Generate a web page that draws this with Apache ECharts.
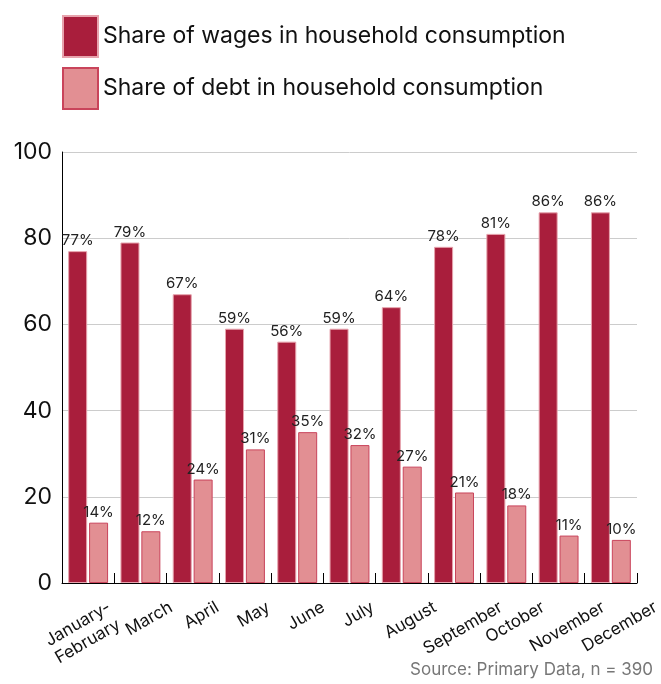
<!DOCTYPE html>
<html>
<head>
<meta charset="utf-8">
<script src="https://cdn.jsdelivr.net/npm/echarts@6/dist/echarts.min.js"></script>
<style>
html,body{margin:0;padding:0;background:#fff;}
#chart{width:661px;height:684px;}
</style>
</head>
<body>
<div id="chart"></div>
<script>
var categories = ['January-\nFebruary','March','April','May','June','July','August','September','October','November','December'];
var wages = [77,79,67,59,56,59,64,78,81,86,86];
var debt = [14,12,24,31,35,32,27,21,18,11,10];
var seriesNames = ['Share of wages in household consumption','Share of debt in household consumption'];
var yTicks = {min:0, max:100, interval:20};
var sourceNote = 'Source: Primary Data, n = 390';

var FONT = 'Inter, "DejaVu Sans", sans-serif';
var XFS = 17, XLH = 20, ROT = 30;

// Rotated x labels: each label's rotated box sits just under the axis, centred on its category.
var ctx = document.createElement('canvas').getContext('2d');
ctx.font = XFS + 'px ' + FONT;
var rad = ROT * Math.PI / 180, cs = Math.cos(rad), sn = Math.sin(rad);
var rich = {};
var labelText = categories.map(function (cat, i) {
  var lines = cat.split('\n');
  var widths = lines.map(function (l) { return ctx.measureText(l).width; });
  var w = Math.max.apply(null, widths);
  var H = w * sn + lines.length * XLH * cs;
  var dx = lines.length > 1 ? -6 : 8, dy = H / 2 - 2;
  var a = cs * dx - sn * dy;   // along the text direction
  var b = sn * dx + cs * dy;   // perpendicular, downward in the text frame
  var base = {fontSize: XFS, fontFamily: FONT, color: '#111'};
  return lines.map(function (l, j) {
    var name = 'l' + i + '_' + j;
    rich[name] = Object.assign({}, base, {
      width: widths[j] + 2 * Math.abs(a),
      align: a > 0 ? 'right' : 'left',
      lineHeight: j === 0 ? XLH + 2 * b : XLH,
      verticalAlign: 'bottom'
    });
    return '{' + name + '|' + l + '}';
  }).join('\n');
});

var chart = echarts.init(document.getElementById('chart'), null, {renderer:'canvas'});
var labelStyle = {show:true, position:'top', distance:3, formatter:'{c}%', fontFamily:FONT, fontSize:15, color:'#222'};
chart.setOption({
  animation:false,
  textStyle:{fontFamily:FONT},
  legend:{
    orient:'vertical', left:62, top:15, padding:0, itemGap:9,
    itemWidth:35, itemHeight:41, icon:'rect',
    textStyle:{fontSize:23, color:'#111', fontFamily:FONT}
  },
  grid:{left:62, right:24, top:152, bottom:101, containLabel:false, outerBoundsMode:'none'},
  xAxis:{
    type:'category', data:categories,
    axisLine:{lineStyle:{color:'#000', width:1}},
    axisTick:{show:true, inside:true, length:10, alignWithLabel:false, lineStyle:{color:'#000'}},
    axisLabel:{interval:0, rotate:ROT, align:'center', verticalAlign:'middle', margin:15,
      fontSize:XFS, color:'#111', fontFamily:FONT, hideOverlap:false,
      formatter:function (v, i) { return labelText[i]; }, rich:rich},
    splitLine:{show:false}
  },
  yAxis:{
    type:'value', min:yTicks.min, max:yTicks.max, interval:yTicks.interval,
    axisLine:{show:true, lineStyle:{color:'#000', width:1}},
    axisTick:{show:false},
    axisLabel:{fontSize:23, color:'#111', margin:10, fontFamily:FONT},
    splitLine:{lineStyle:{color:'#cccccc', width:1}}
  },
  series:[
    {name:seriesNames[0], type:'bar', data:wages, barWidth:19, barGap:'10%',
     itemStyle:{color:'#a91e3c', borderColor:'#e7a3ad', borderWidth:1},
     label:labelStyle},
    {name:seriesNames[1], type:'bar', data:debt, barWidth:19, barGap:'10%',
     itemStyle:{color:'#e28f93', borderColor:'#c9445b', borderWidth:1},
     label:labelStyle}
  ],
  graphic:[{type:'text', right:8, bottom:6, style:{text:sourceNote, fontSize:17, fill:'#777', fontFamily:FONT}}]
});
</script>
</body>
</html>
